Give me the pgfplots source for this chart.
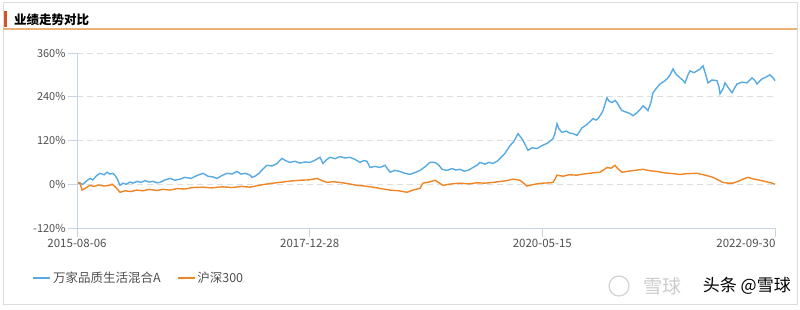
\documentclass[border=0pt]{standalone}
\usepackage{fontspec}
\setmainfont{Noto Sans CJK SC}
\usepackage{pgfplots}
\pgfplotsset{compat=1.18}
\definecolor{fundblue}{RGB}{88,170,226}
\definecolor{idxorange}{RGB}{238,134,38}
\definecolor{gridgray}{RGB}{222,222,222}
\definecolor{axisgray}{RGB}{200,212,225}
\definecolor{labgray}{RGB}{80,80,80}
\definecolor{framegray}{RGB}{220,220,220}
\definecolor{titlered}{RGB}{214,80,40}
\definecolor{lineorange}{RGB}{236,176,120}
\begin{document}
\begin{tikzpicture}[x=1pt,y=1pt]
\useasboundingbox (0,0) rectangle (800,310);
\fill[white] (0,0) rectangle (800,310);
% frame
\draw[framegray,line width=1pt] (3,5) rectangle (797,307);
% title
\fill[titlered] (3.5,283) rectangle (6.5,299);
\node[anchor=west,inner sep=0pt,font=\fontsize{12.5}{13}\selectfont\bfseries] at (14,290) {业绩走势对比};
\draw[lineorange,line width=1.2pt] (3,281) -- (797,281);
% watermark
\draw[gray!35,line width=1.2pt] (619,24) circle (10);
\node[anchor=west,inner sep=0pt,text=gray!40,font=\fontsize{19}{19}\selectfont] at (643,24) {雪球};
\node[anchor=east,inner sep=0pt,text=black,font=\fontsize{17}{17}\selectfont] at (791,24) {头条 @雪球};
\begin{axis}[
  at={(77pt,82pt)}, anchor=south west,
  scale only axis, width=698pt, height=175pt,
  xmin=0, xmax=698, ymin=-120, ymax=360,
  axis x line*=bottom, axis y line*=left,
  axis line style={axisgray,line width=0.8pt},
  ytick={-120,0,120,240,360},
  yticklabels={-120\%,0\%,120\%,240\%,360\%},
  xtick={0,232.67,465.33},
  xticklabels={2015-08-06,2017-12-28,2020-05-15},
  extra x ticks={698},
  extra x tick labels={2022-09-30},
  extra x tick style={grid=none, xticklabel style={anchor=north east, xshift=4pt}},
  tick align=outside, major tick length=9pt,
  tick style={axisgray,line width=0.8pt},
  ymajorgrids, grid style={gridgray,dashed,dash pattern=on 6pt off 4pt,line width=0.8pt},
  yticklabel style={font=\fontsize{11}{11}\selectfont,text=labgray,xshift=1pt},
  xticklabel style={font=\fontsize{11.5}{11.5}\selectfont,text=labgray,yshift=1pt},
  legend style={at={(-0.068,-0.286)}, anchor=west, draw=none, fill=none,
    font=\fontsize{12.5}{13}\selectfont, text=labgray,
    /tikz/every even column/.append style={column sep=14pt}},
  legend columns=2,
  legend image code/.code={\draw[#1,line width=1.5pt] (0pt,0pt) -- (17pt,0pt);},
  clip=false,
]
\addplot[fundblue, line width=1.4pt] coordinates {
(1,3) (3,2) (6,0) (9,8) (13,16) (16,12) (19,22) (23,30) (27,26) (30,33) (33,28) (36,30) (38,24) (40,16)
(43,-3) (46,3) (49,0) (53,6) (56,3) (60,8) (64,5) (68,10) (72,6) (76,8) (80,4) (83,5) (88,12) (93,16)
(98,11) (103,14) (108,19) (114,16) (120,24) (126,30) (131,22) (136,20) (140,16) (145,24) (150,30) (155,28)
(160,35) (164,28) (168,30) (173,25) (175,19) (178,22) (182,30) (186,42) (190,52) (195,50) (200,57)
(205,71) (209,64) (213,60) (218,63) (223,58) (228,61) (233,60) (238,66) (243,74) (246,57) (249,66) (253,74)
(258,70) (263,76) (268,72) (273,74) (278,68) (283,60) (287,65) (290,63) (293,46) (298,49) (303,46)
(308,52) (313,33) (318,38) (323,35) (328,30) (333,27) (338,32) (343,38) (348,48) (353,60) (358,60)
(362,52) (365,41) (370,38) (375,43) (379,39) (383,41) (387,36) (391,38) (396,46) (400,52) (403,60)
(408,55) (412,60) (416,57) (420,63) (423,71) (428,85) (433,106) (437,118) (441,139) (444,128) (446,120)
(449,104) (451,93) (455,100) (460,98) (465,106) (470,112) (473,118) (476,125) (478,140) (480,166)
(482,152) (485,142) (489,146) (493,140) (496,139) (500,134) (503,146) (505,155) (508,160) (510,164)
(513,172) (516,180) (519,176) (521,180) (524,192) (526,202) (528,220) (530,237) (532,228) (535,224)
(538,230) (540,224) (543,210) (545,202) (549,198) (553,194) (556,188) (560,196) (563,205) (566,215)
(569,208) (571,202) (574,225) (576,251) (579,262) (583,275) (587,282) (590,289) (593,300) (596,316)
(599,302) (603,292) (606,285) (608,278) (611,300) (613,311) (617,306) (620,311) (623,316) (626,325)
(629,298) (631,278) (635,286) (640,284) (642,266) (643,248) (646,262) (648,278) (652,262) (655,251)
(658,266) (660,275) (665,280) (670,278) (673,286) (675,292) (678,284) (680,275) (683,284) (685,289)
(689,294) (693,300) (696,292) (698,284)
};
\addlegendentry{万家品质生活混合A}
\addplot[idxorange, line width=1.4pt] coordinates {
(1,5) (3,4) (5,-16) (9,-10) (13,-3) (17,-6) (22,-2) (27,-5) (33,-3) (35,0) (38,-6) (43,-22) (48,-18)
(54,-20) (60,-16) (66,-18) (72,-14) (80,-17) (86,-14) (93,-16) (100,-12) (108,-13) (116,-9) (126,-8)
(135,-10) (145,-7) (155,-9) (165,-6) (173,-8) (180,-4) (188,0) (196,3) (205,6) (214,9) (223,11) (232,12)
(240,16) (245,10) (250,5) (256,7) (263,5) (270,2) (280,-3) (288,-5) (296,-8) (304,-12) (313,-16)
(322,-18) (330,-22) (336,-16) (343,-11) (346,3) (352,6) (358,11) (362,4) (366,-3) (372,0) (378,2)
(383,3) (392,1) (400,4) (408,3) (416,5) (424,8) (430,10) (436,14) (443,11) (447,2) (450,-5) (456,-1)
(462,2) (466,3) (472,4) (476,5) (478,14) (480,25) (486,22) (492,26) (500,25) (506,28) (513,30)
(518,32) (523,33) (527,40) (530,46) (534,44) (538,52) (541,42) (545,33) (552,36) (558,38) (566,41)
(573,37) (580,35) (588,31) (596,29) (603,27) (610,29) (620,30) (628,25) (636,19) (641,12) (646,5)
(651,3) (656,3) (661,8) (666,14) (671,19) (677,14) (683,11) (689,7) (694,4) (698,0)
};
\addlegendentry{沪深300}
\end{axis}
\end{tikzpicture}
\end{document}
